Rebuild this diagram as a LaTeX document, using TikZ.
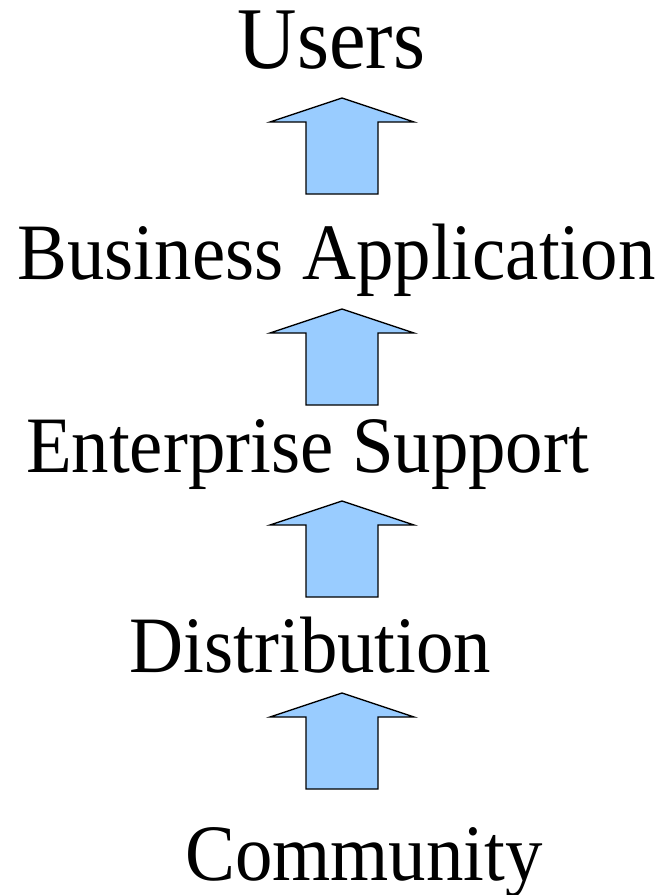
\documentclass[tikz,border=0pt]{standalone}
\usepackage{fontspec}
\newfontfamily\layerfont{Liberation Serif}[FakeStretch=0.935]
\definecolor{arrowblue}{RGB}{153, 204, 255}
\usepackage{tikz}
\usetikzlibrary{positioning}

\tikzset{
  layer/.style={inner sep=0pt, anchor=base, font=\layerfont\fontsize{80}{90}\selectfont},
  uparrow/.pic={
    \draw[draw=black, fill=arrowblue, line width=1.3pt, line join=miter]
      (-36,0) -- (-36,-72) -- (-72,-72) -- (0,-96) -- (72,-72) -- (36,-72) -- (36,0) -- cycle;
  }
}

\begin{document}
\begin{tikzpicture}[x=1pt, y=-1pt]
  \useasboundingbox (0,0) rectangle (662,895);

  % Layers, top to bottom
  \node[layer, font=\layerfont\fontsize{88}{96}\selectfont] (users) at (331.5, 68) {Users};
  \node[layer] (business) at (336.5, 279) {Business Application};
  \node[layer] (enterprise) at (307.5, 472) {Enterprise Support};
  \node[layer] (distribution) at (310.5, 672) {Distribution};
  \node[layer] (community) at (364, 880) {Community};

  % Arrows between layers
  \pic at (342, 194) {uparrow};
  \pic at (342, 405) {uparrow};
  \pic at (342, 597) {uparrow};
  \pic at (342, 789) {uparrow};
\end{tikzpicture}
\end{document}
